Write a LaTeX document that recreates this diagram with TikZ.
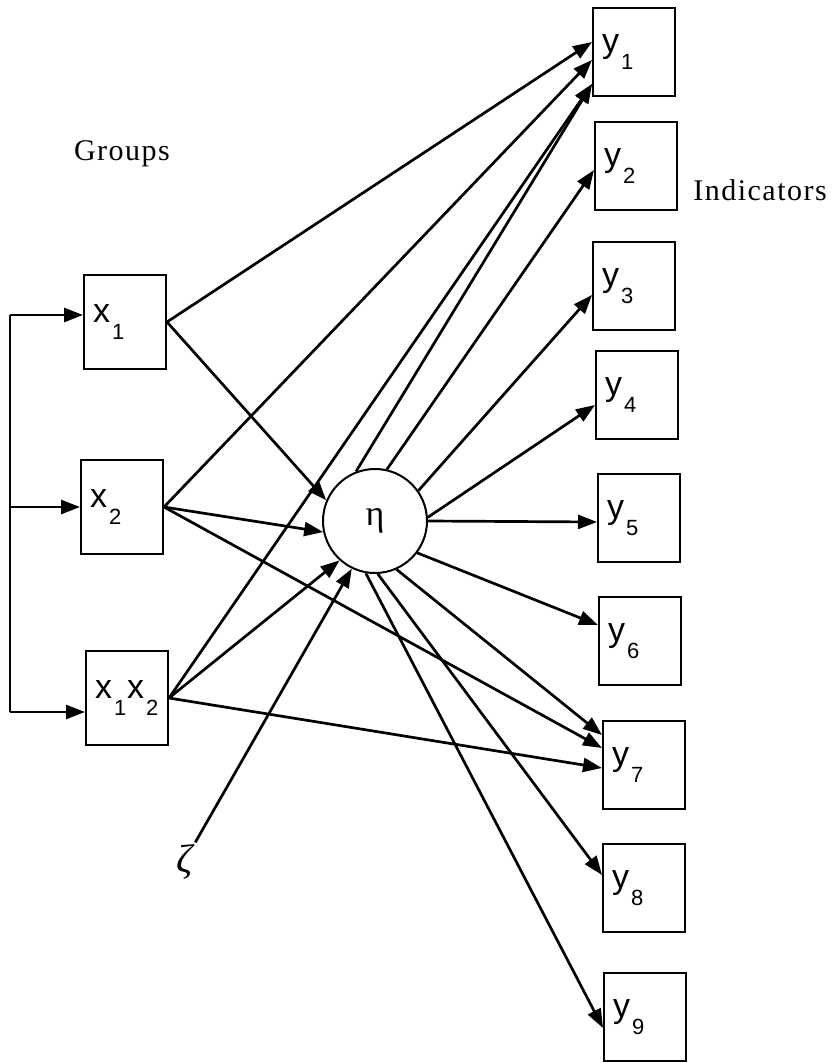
\documentclass[tikz,border=0pt]{standalone}
\usepackage{fontspec}
\setmainfont{Liberation Sans}
\newfontfamily\spacedfont[LetterSpace=5]{Liberation Serif}
\newfontfamily\greekfont{Liberation Serif}
\usetikzlibrary{arrows.meta}

% variable name with a lowered index
\newcommand{\sublabel}[2]{#1\kern2pt\raisebox{-17pt}{\fontsize{22}{22}\selectfont #2}}

\tikzset{
    box/.style={draw, rectangle, line width=2pt, minimum width=82pt, minimum height=88pt,
        text width=64pt, inner xsep=9pt, inner ysep=0pt, align=left, font=\fontsize{34}{36}\selectfont},
    latent/.style={draw, circle, line width=2pt, minimum size=104pt, inner sep=0pt, font=\greekfont\fontsize{36}{36}\selectfont},
    heading/.style={anchor=base, font=\spacedfont\fontsize{30}{30}\selectfont},
    arr/.style={line width=2.7pt, -{Triangle[length=19pt,width=14pt]}}
}

\begin{document}
\begin{tikzpicture}[x=1pt, y=-1pt]
    \useasboundingbox (0,0) rectangle (832,1063);

    % Draw the group boxes
    \node[box, minimum height=94pt] (x1) at (125,322) {\sublabel{x}{1}};
    \node[box, minimum height=94pt] (x2) at (122,507) {\sublabel{x}{2}};
    \node[box, minimum height=94pt] (x12) at (127,698) {\sublabel{x}{1}\kern1pt\sublabel{x}{2}};

    % Draw the indicator boxes
    \foreach \i/\px/\py in {1/634/52, 2/636/166, 3/634/286, 4/637/395, 5/639/518,
                            6/640/641, 7/644/765, 8/644/888, 9/645/1017} {
        \node[box] (y\i) at (\px,\py) {\sublabel{y}{\i}};
    }

    % Latent variable and disturbance
    \node[latent] (eta) at (375,521) {η};
    \node[inner sep=2pt, font=\greekfont\itshape\fontsize{40}{40}\selectfont] (zeta) at (185,862) {ζ};

    % Headings
    \node[heading] (groups) at (122,160) {Groups};
    \node[heading] (indicators) at (760,200) {Indicators};

    % Bracket feeding the groups
    \coordinate (b1) at (10,315);
    \coordinate (b2) at (10,507);
    \coordinate (b3) at (10,712);
    \draw[line width=2pt] (b1) -- (b3);
    \foreach \n/\b in {x1/b1, x2/b2, x12/b3} {
        \draw[arr] (\b) -- (\b -| \n.west);
    }

    % Direct effects of the groups
    \draw[arr] (x1.east) -- ([yshift=10pt]y1.west);
    \draw[arr] (x1.east) -- (eta.157);
    \draw[arr] (x2.east) -- ([yshift=-8pt]y1.west);
    \draw[arr] (x2.east) -- (eta.192);
    \draw[arr] (x2.east) -- ([yshift=17pt]y7.west);
    \draw[arr] (x12.east) -- ([yshift=-32pt]y1.west);
    \draw[arr] (x12.east) -- (eta.228);
    \draw[arr] (x12.east) -- ([yshift=-3pt]y7.west);
    \draw[arr] (zeta.north east) -- (eta.244);

    % Loadings of the indicators
    \foreach \a/\i/\s in {111/1/-32, 77/2/-4, 35/3/-9, 4/4/-10, 0/5/-4,
                          323/6/16, 294/7/30, 273/8/13, 260/9/-11} {
        \draw[arr] (eta.\a) -- ([yshift=\s pt]y\i.west);
    }
\end{tikzpicture}
\end{document}
